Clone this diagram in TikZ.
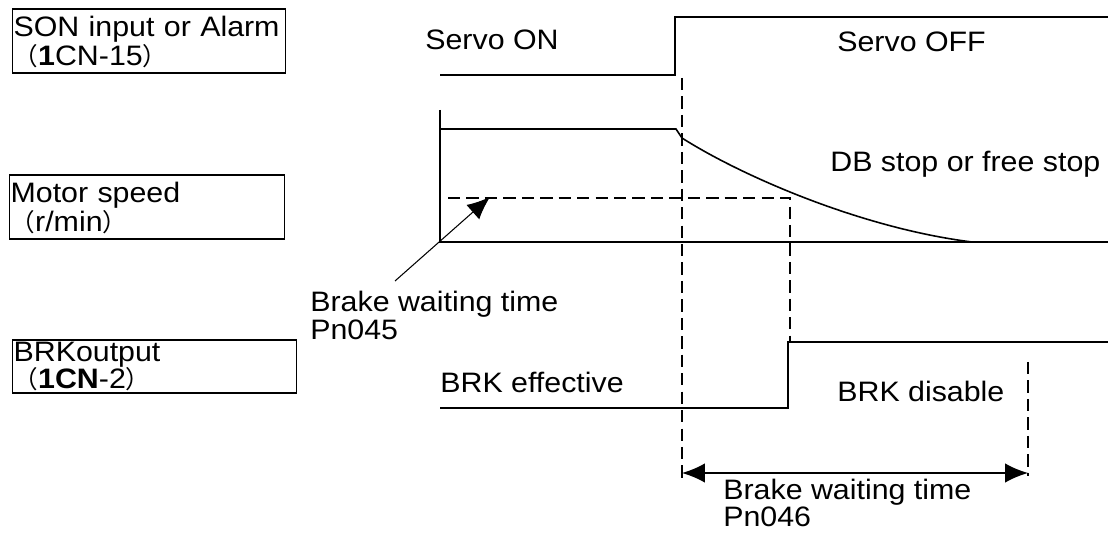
\documentclass[tikz,border=0pt]{standalone}
\usepackage{fontspec}
\setmainfont[FakeStretch=1.08]{Liberation Sans}
\newfontfamily\cjk{Noto Sans CJK SC}
\newcommand\opar{{\cjk\fontsize{14}{12}\selectfont （}}
\newcommand\cpar{{\cjk\fontsize{14}{12}\selectfont ）}}
\usetikzlibrary{arrows.meta}

\begin{document}
\begin{tikzpicture}[
  x=0.02cm, y=-0.02cm,
  font=\fontsize{16}{16}\selectfont,
  sig/.style={line width=0.9pt},
  guide/.style={line width=1.6pt, dash pattern=on 7pt off 3.5pt},
  lbl/.style={draw, line width=0.8pt, anchor=base west, align=left, inner xsep=0.5pt, inner ysep=0pt},
  txt/.style={anchor=base west, inner sep=0pt, align=left},
  tip/.style={-{Latex[length=13pt,width=11pt]}, line width=0.6pt},
  span/.style={{Latex[length=13pt,width=11pt]}-{Latex[length=13pt,width=11pt]}, line width=0.8pt}
]
\useasboundingbox (0,0) rectangle (1117,533);

\node[lbl, text width=5.46cm-1pt, text height=15.9pt, text depth=20.5pt,
  font={\fontsize{16}{16}\selectfont\lineskiplimit=-20pt}] (son) at (12,37)
  {SON input or Alarm\\\opar\textbf{1}CN-15\cpar};
\node[lbl, text width=5.5cm-1pt, text height=15.9pt, text depth=20.5pt,
  font={\fontsize{16}{16.5}\selectfont\lineskiplimit=-20pt}] (spd) at (9,203)
  {Motor speed\\\opar r/min\cpar};
\node[lbl, text width=5.68cm-1pt, text height=12.5pt, text depth=17.6pt,
  font={\fontsize{16}{15}\selectfont\lineskiplimit=-20pt}] (brk) at (12,362)
  {BRKoutput\\\opar\textbf{1CN}-2\cpar};

\node[txt] (svon) at (425,50) {Servo ON};
\node[txt] (svoff) at (837,52) {Servo OFF};
\node[txt] (db) at (830,172) {DB stop or free stop};
\node[txt] (brkon) at (440,393) {BRK effective};
\node[txt] (brkoff) at (837,402) {BRK disable};
\node[txt] (pn45) at (310,340) {Brake waiting time\\Pn045};
\node[txt, font=\fontsize{16}{14.2}\selectfont] (pn46) at (723,527) {Brake waiting time\\Pn046};

\coordinate (off) at (682,78);
\coordinate (offb) at (682,478);
\coordinate (lvl) at (448,198);
\coordinate (rel) at (790,198);
\coordinate (relb) at (790,343);
\coordinate (end) at (1028,362);
\coordinate (endb) at (1028,476);
\coordinate (lead) at (395,281);
\coordinate (arr) at (490,197);
\coordinate (s0) at (682,473);
\coordinate (s1) at (1028,473);

\draw[sig] (440,75) -- (675,75) -- (675,17) -- (1108,17);
\draw[sig] (440,110) -- (440,242) -- (1108,242);
\draw[sig] (440,129) -- (676,129) -- (682,138)
  .. controls (740,175) and (860,228) .. (972,242);
\draw[sig] (440,408) -- (788,408) -- (788,342) -- (1108,342);

\draw[guide] (off) -- (offb);
\draw[guide] (lvl) -- (rel) -- (relb);
\draw[guide, line width=1pt] (end) -- (endb);

\draw[tip] (lead) -- (arr);
\draw[span] (s0) -- (s1);
\end{tikzpicture}
\end{document}
